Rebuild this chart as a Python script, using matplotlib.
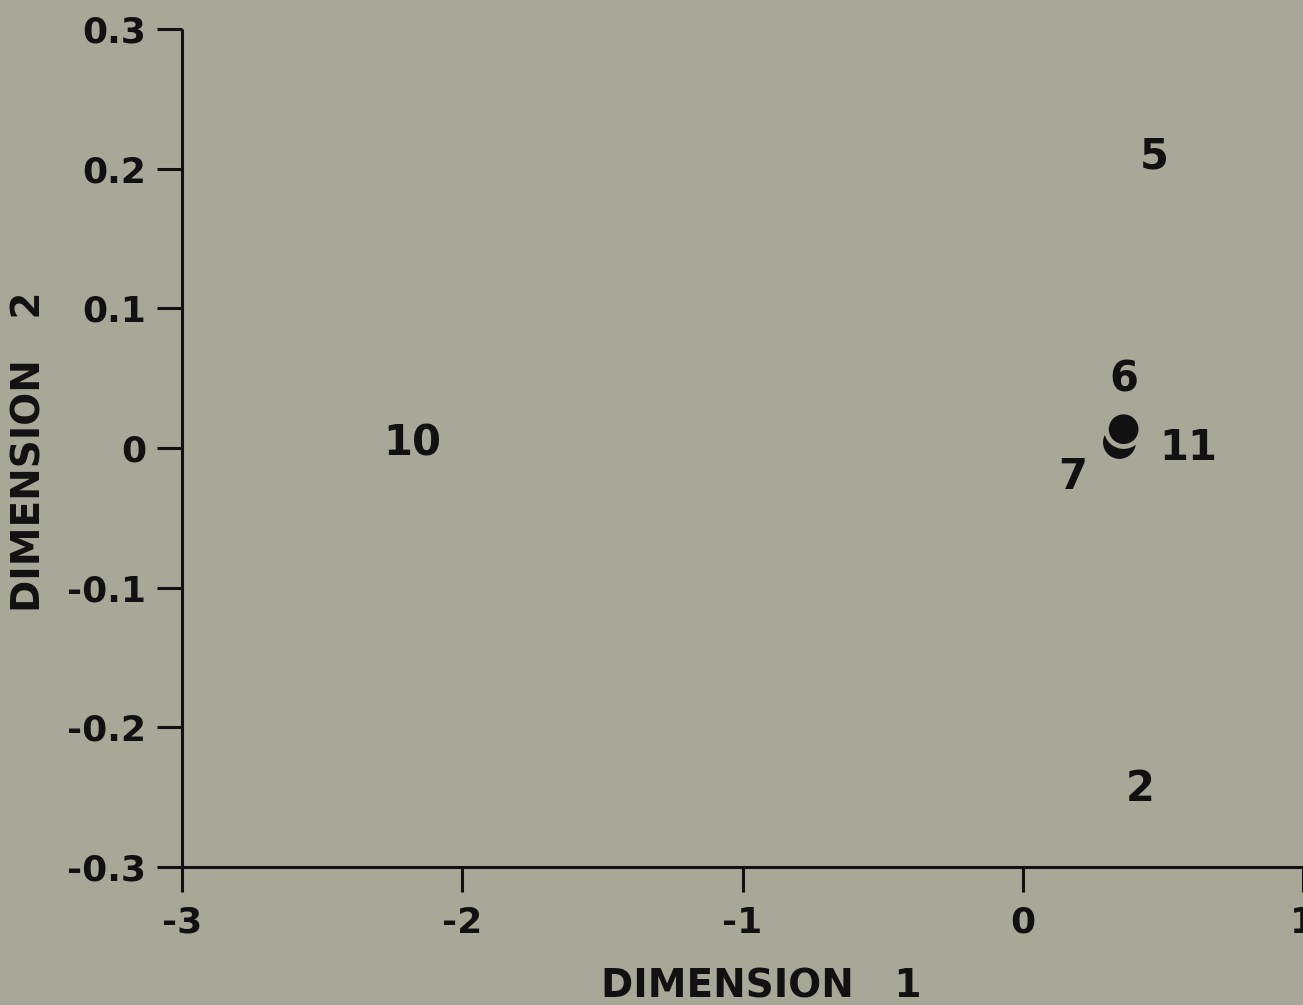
import matplotlib
matplotlib.use('Agg')
import matplotlib.pyplot as plt

# scaled configuration of stimuli on the first two dimensions
labels = ['10', '5', '6', '11', '7', '2']
dim1 = [-2.18, 0.47, 0.36, 0.59, 0.18, 0.42]
dim2 = [0.003, 0.209, 0.049, 0.000, -0.021, -0.244]

# unlabelled centroid points (one partly hidden behind the other)
dot_x = [0.345, 0.360]
dot_y = [0.004, 0.0135]

xticks = [-3, -2, -1, 0, 1]
yticks = [-0.3, -0.2, -0.1, 0, 0.1, 0.2, 0.3]
ytick_labels = ['-0.3', '-0.2', '-0.1', '0', '0.1', '0.2', '0.3']

bg = '#a7a897'
ink = '#111111'

plt.rcParams['font.family'] = 'DejaVu Sans'

fig = plt.figure(figsize=(13.03, 10.05), dpi=100, facecolor=bg)
ax = fig.add_axes([0.1397, 0.1373, 0.8603, 0.8338])
ax.set_facecolor(bg)

ax.set_xlim(-3, 1)
ax.set_ylim(-0.3, 0.3)

for s in ['top', 'right']:
    ax.spines[s].set_visible(False)
for s in ['left', 'bottom']:
    ax.spines[s].set_linewidth(2.2)
    ax.spines[s].set_color(ink)
    ax.spines[s].set_capstyle('butt')

ax.set_xticks(xticks)
ax.set_xticklabels([str(t) for t in xticks])
ax.set_yticks(yticks)
ax.set_yticklabels(ytick_labels)
ax.tick_params(axis='both', direction='out', length=18, width=2.2, color=ink,
               labelsize=26, labelcolor=ink)
ax.tick_params(axis='x', pad=10)
ax.tick_params(axis='y', pad=8)
for lab in ax.get_xticklabels() + ax.get_yticklabels():
    lab.set_fontweight('bold')

for lab, x, y in zip(labels, dim1, dim2):
    ax.text(x, y, lab, ha='center', va='center', fontsize=30, fontweight='bold',
            color=ink, clip_on=False)

ax.scatter(dot_x, dot_y, s=[560, 620], color=ink, edgecolors=[ink, bg],
           linewidths=[0, 3.5], zorder=3, clip_on=False)

ax.set_xlabel('DIMENSION   1', fontsize=28, fontweight='bold', color=ink,
              ha='center', va='center')
ax.set_ylabel('DIMENSION   2', fontsize=28, fontweight='bold', color=ink,
              ha='center', va='center')
ax.xaxis.set_label_coords(0.5165, -0.142)
ax.yaxis.set_label_coords(-0.1365, 0.495)

fig.savefig('out.png', dpi=100, facecolor=bg)
